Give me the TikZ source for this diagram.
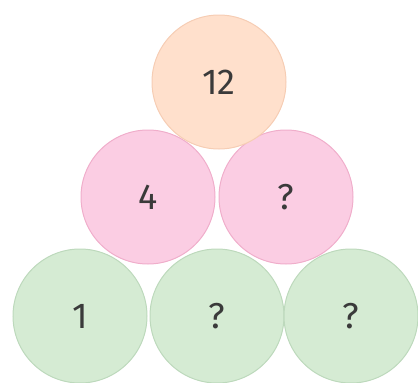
\documentclass[tikz,border=0pt]{standalone}
\usepackage{fontspec}
\setsansfont{Fira Sans}
\usepackage{tikz}
\usetikzlibrary{positioning}
\definecolor{topfill}{HTML}{FFE0CC}
\definecolor{topline}{HTML}{F6CDB4}
\definecolor{midfill}{HTML}{FBCDE3}
\definecolor{midline}{HTML}{F0AECB}
\definecolor{lowfill}{HTML}{D5EBD3}
\definecolor{lowline}{HTML}{BDD9BC}
\definecolor{numtext}{HTML}{3A3A3A}

\begin{document}
\begin{tikzpicture}[
  x=1pt, y=-1pt,
  font=\sffamily\fontsize{36}{40}\selectfont,
  ball/.style={circle, draw, line width=1pt, minimum size=134pt, inner sep=0pt, text=numtext},
  top/.style={ball, fill=topfill, draw=topline},
  mid/.style={ball, fill=midfill, draw=midline},
  low/.style={ball, fill=lowfill, draw=lowline}
]
  \useasboundingbox (0,0) rectangle (418,383);

  % unterste Reihe
  \node[low] (l1) at (80,316)  {1};
  \node[low] (l2) at (217,316) {?};
  \node[low] (l3) at (351,316) {?};
  % mittlere Reihe
  \node[mid] (m1) at (148,197) {4};
  \node[mid] (m2) at (286,197) {?};
  % Spitze
  \node[top] (t) at (219,82) {12};
\end{tikzpicture}
\end{document}
